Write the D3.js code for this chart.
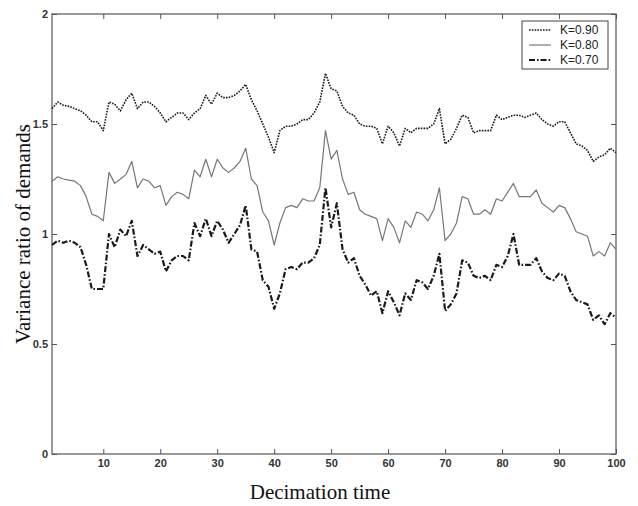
<!DOCTYPE html>
<html><head><meta charset="utf-8">
<script src="https://cdn.jsdelivr.net/npm/d3@7"></script>
<style>html,body{margin:0;padding:0;background:#fff;}svg{display:block;}</style>
</head><body>
<svg id="chart" width="638" height="506"></svg>
<script>
const decimation = d3.range(1, 101);
const k090 = [1.57,1.60,1.585,1.58,1.57,1.56,1.54,1.51,1.51,1.47,
1.60,1.59,1.56,1.61,1.64,1.57,1.60,1.60,1.58,1.55,
1.51,1.53,1.55,1.55,1.52,1.55,1.57,1.63,1.59,1.64,
1.62,1.62,1.63,1.65,1.68,1.61,1.56,1.50,1.44,1.37,
1.47,1.49,1.49,1.50,1.52,1.52,1.55,1.60,1.73,1.66,
1.65,1.58,1.55,1.54,1.50,1.49,1.49,1.48,1.41,1.49,
1.46,1.40,1.48,1.46,1.48,1.48,1.48,1.50,1.57,1.41,
1.43,1.48,1.54,1.53,1.46,1.47,1.47,1.47,1.54,1.52,
1.53,1.54,1.54,1.53,1.54,1.55,1.52,1.50,1.49,1.51,
1.51,1.46,1.41,1.40,1.38,1.33,1.35,1.36,1.39,1.37];
const k080 = [1.24,1.26,1.25,1.245,1.24,1.22,1.17,1.09,1.08,1.06,
1.28,1.23,1.25,1.27,1.33,1.21,1.25,1.24,1.21,1.22,
1.13,1.17,1.19,1.18,1.16,1.29,1.26,1.34,1.26,1.34,
1.30,1.28,1.30,1.33,1.39,1.25,1.22,1.10,1.06,0.95,
1.05,1.12,1.13,1.12,1.16,1.15,1.15,1.21,1.47,1.34,
1.38,1.25,1.18,1.19,1.11,1.09,1.08,1.07,0.97,1.07,
1.03,0.96,1.06,1.03,1.10,1.09,1.06,1.11,1.21,0.97,
1.00,1.05,1.17,1.16,1.09,1.09,1.11,1.09,1.16,1.15,
1.19,1.23,1.17,1.17,1.17,1.20,1.14,1.12,1.10,1.13,
1.12,1.07,1.01,1.00,0.99,0.90,0.92,0.90,0.96,0.93];
const k070 = [0.95,0.97,0.96,0.97,0.96,0.94,0.86,0.75,0.75,0.75,
1.00,0.94,1.02,0.99,1.06,0.90,0.95,0.93,0.91,0.92,
0.83,0.88,0.90,0.90,0.88,1.05,0.99,1.07,0.99,1.06,
1.02,0.96,1.00,1.04,1.13,0.93,0.92,0.79,0.76,0.66,
0.73,0.84,0.85,0.84,0.87,0.87,0.89,0.95,1.21,1.03,
1.14,0.93,0.87,0.89,0.81,0.77,0.72,0.74,0.64,0.74,
0.69,0.63,0.73,0.70,0.79,0.78,0.75,0.81,0.91,0.65,
0.68,0.73,0.88,0.87,0.81,0.80,0.81,0.79,0.86,0.85,
0.90,1.00,0.86,0.86,0.86,0.89,0.83,0.80,0.79,0.82,
0.81,0.74,0.70,0.69,0.68,0.61,0.63,0.59,0.64,0.62];
const seriesNames = ["K=0.90","K=0.80","K=0.70"];
const xTicks = [10,20,30,40,50,60,70,80,90,100];
const yTicks = [0,0.5,1,1.5,2];

const svg = d3.select("#chart");
const L = 52, R = 616, T = 14, B = 454;
const x = d3.scaleLinear().domain([1,100]).range([L,R]);
const y = d3.scaleLinear().domain([0,2]).range([B,T]);

const styles = [
  {stroke:"#1a1a1a", width:1.6, dash:"1.6,1.2"},
  {stroke:"#777", width:1.2, dash:null},
  {stroke:"#1a1a1a", width:2.2, dash:"6,2,1.6,2"}
];
const allSeries = [k090,k080,k070];

const axisColor = "#555";
const tickFont = "Arial, 'Liberation Sans', sans-serif";

// box
svg.append("rect").attr("x",L).attr("y",T).attr("width",R-L).attr("height",B-T)
  .attr("fill","none").attr("stroke",axisColor).attr("stroke-width",1.2);

// axes (ticks inside)
const xAxisB = d3.axisBottom(x).tickValues(xTicks).tickSizeInner(-5).tickSizeOuter(0).tickPadding(5);
const gxb = svg.append("g").attr("transform",`translate(0,${B})`).call(xAxisB);
const xAxisT = d3.axisTop(x).tickValues(xTicks).tickSizeInner(-5).tickSizeOuter(0).tickFormat("");
const gxt = svg.append("g").attr("transform",`translate(0,${T})`).call(xAxisT);
const yAxisL = d3.axisLeft(y).tickValues(yTicks).tickSizeInner(-5).tickSizeOuter(0).tickPadding(4).tickFormat(d=>d3.format("")(d));
const gyl = svg.append("g").attr("transform",`translate(${L},0)`).call(yAxisL);
const yAxisR = d3.axisRight(y).tickValues(yTicks).tickSizeInner(-5).tickSizeOuter(0).tickFormat("");
const gyr = svg.append("g").attr("transform",`translate(${R},0)`).call(yAxisR);
[gxb,gxt,gyl,gyr].forEach(g=>{
  g.select(".domain").remove();
  g.selectAll(".tick line").attr("stroke",axisColor).attr("stroke-width",1);
  g.selectAll(".tick text").attr("fill","#333").attr("font-family",tickFont)
    .attr("font-size",11).attr("font-weight","bold");
});

// lines
const line = d3.line().x((d,i)=>x(decimation[i])).y(d=>y(d));
allSeries.forEach((s,k)=>{
  svg.append("path").datum(s).attr("d",line).attr("fill","none")
    .attr("stroke",styles[k].stroke).attr("stroke-width",styles[k].width)
    .attr("stroke-dasharray",styles[k].dash).attr("stroke-linejoin","round");
});

// legend
const lg = svg.append("g");
lg.append("rect").attr("x",522).attr("y",21).attr("width",86).attr("height",48)
  .attr("fill","#fff").attr("stroke","#444").attr("stroke-width",1);
seriesNames.forEach((n,k)=>{
  const yy = 30 + k*15;
  lg.append("line").attr("x1",529).attr("x2",551).attr("y1",yy).attr("y2",yy)
    .attr("stroke",styles[k].stroke).attr("stroke-width",styles[k].width)
    .attr("stroke-dasharray",styles[k].dash);
  lg.append("text").attr("x",560).attr("y",yy+4).text(n)
    .attr("font-family",tickFont).attr("font-size",12).attr("fill","#222");
});

// axis titles
svg.append("text").attr("x",320).attr("y",499).attr("text-anchor","middle")
  .attr("font-family","'Liberation Serif','Times New Roman',serif").attr("font-size",21)
  .attr("fill","#111").text("Decimation time");
svg.append("text").attr("transform","translate(30,234) rotate(-90)").attr("text-anchor","middle")
  .attr("font-family","'Liberation Serif','Times New Roman',serif").attr("font-size",21)
  .attr("fill","#111").text("Variance ratio of demands");
</script>
</body></html>
